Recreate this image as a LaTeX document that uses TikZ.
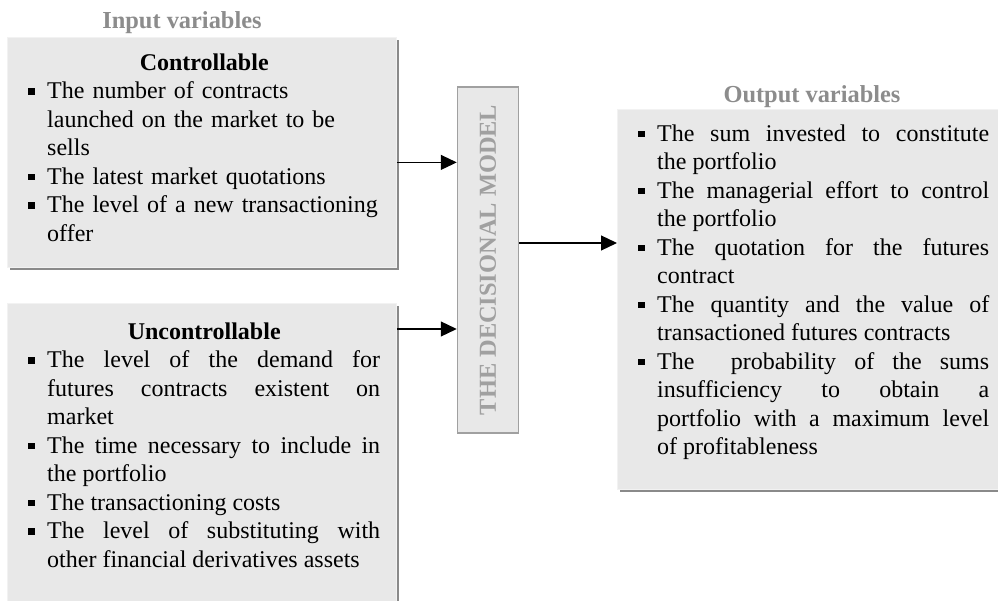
\documentclass[tikz,border=0pt]{standalone}
\usepackage{fontspec}
\setmainfont{Liberation Serif}
\usepackage{tikz}
\usetikzlibrary{arrows.meta,shadows,positioning,calc}
\definecolor{boxgrey}{HTML}{E8E8E8}
\definecolor{edgegrey}{HTML}{F2F2F2}
\definecolor{shadegrey}{HTML}{8A8A8A}
\definecolor{labelgrey}{HTML}{8C8C8C}
\definecolor{modelgrey}{HTML}{A0A0A0}

% one bulleted entry with a hanging indent
\newcommand{\sqitem}[1]{\noindent\hangindent=19pt\hangafter=1\makebox[19pt][l]{\rule[4pt]{6.5pt}{6.5pt}\strut}#1\par}

\begin{document}
\begin{tikzpicture}[x=1pt,y=-1pt,font=\fontsize{24}{28.5}\selectfont]

\tikzset{varbox/.style={shape=rectangle,fill=boxgrey,draw=edgegrey,line width=0.8pt,inner sep=0pt,anchor=north west,
  drop shadow={shadow xshift=3pt,shadow yshift=-3pt,fill=shadegrey,opacity=1}},
listtext/.style={inner sep=0pt,anchor=north west,align=justify,execute at begin node={\hyphenpenalty=10000\exhyphenpenalty=10000}},
grouplabel/.style={font=\fontsize{24.4}{28.5}\selectfont\bfseries,text=labelgrey,anchor=base,inner sep=0pt},
modelbox/.style={shape=rectangle,fill=boxgrey,draw=modelgrey,line width=1.5pt,rotate=90,minimum width=346pt,minimum height=61pt,
  inner sep=0pt,text=modelgrey,font=\fontsize{24.4}{28.5}\selectfont\bfseries},
arr/.style={line width=1.2pt,-{Triangle[length=16pt,width=15pt]}}}

\useasboundingbox (0,0) rectangle (998,601);

% Boxes
\node[varbox,minimum width=389pt,minimum height=230pt] (ctrl) at (7,37) {};
\node[varbox,minimum width=389pt,minimum height=305pt] (unctrl) at (7,303) {};
\node[varbox,minimum width=383pt,minimum height=380pt] (outbox) at (617,109) {};
\node[modelbox] (model) at (488,260) {THE DECISIONAL MODEL};

% Group labels
\node[grouplabel] (inLabel) at (182,29) {Input variables};
\node[grouplabel] (outLabel) at (812,103) {Output variables};

% Lists
\node[listtext,align=left,text width=352pt,below right=13pt and 21pt of ctrl.north west] (ctrlText) {%
\makebox[\linewidth]{\bfseries Controllable\strut}\par
\sqitem{The number of contracts\newline launched on the market to be\newline sells}
\sqitem{The latest market quotations}
\sqitem{The level of a new transactioning\newline offer}};

\node[listtext,text width=352pt,below right=16pt and 21pt of unctrl.north west] (unctrlText) {%
\makebox[\linewidth]{\bfseries Uncontrollable\strut}\par
\sqitem{The level of the demand for\linebreak futures contracts existent on\linebreak market}
\sqitem{The time necessary to include in\linebreak the portfolio}
\sqitem{The transactioning costs}
\sqitem{The level of substituting with\linebreak other financial derivatives assets}};

\node[listtext,text width=351pt,below right=12pt and 21pt of outbox.north west] (outText) {%
\sqitem{The sum invested to constitute\linebreak the portfolio}
\sqitem{The managerial effort to control\linebreak the portfolio}
\sqitem{The quotation for the futures\linebreak contract}
\sqitem{The quantity and the value of\linebreak transactioned futures contracts}
\sqitem{The~ probability of the sums\linebreak insufficiency to obtain a\linebreak portfolio with a maximum level\linebreak of profitableness}};

% Edges
\coordinate (inA) at ([yshift=-10pt]ctrl.east);
\coordinate (inB) at ([yshift=-26pt]unctrl.north east);
\coordinate (outA) at ([yshift=17pt]model.south);
\draw[arr] (inA) -- (inA -| model.north); \draw[arr] (inB) -- (inB -| model.north);
\draw[arr] (outA) -- (outA -| outbox.west);

\end{tikzpicture}
\end{document}
